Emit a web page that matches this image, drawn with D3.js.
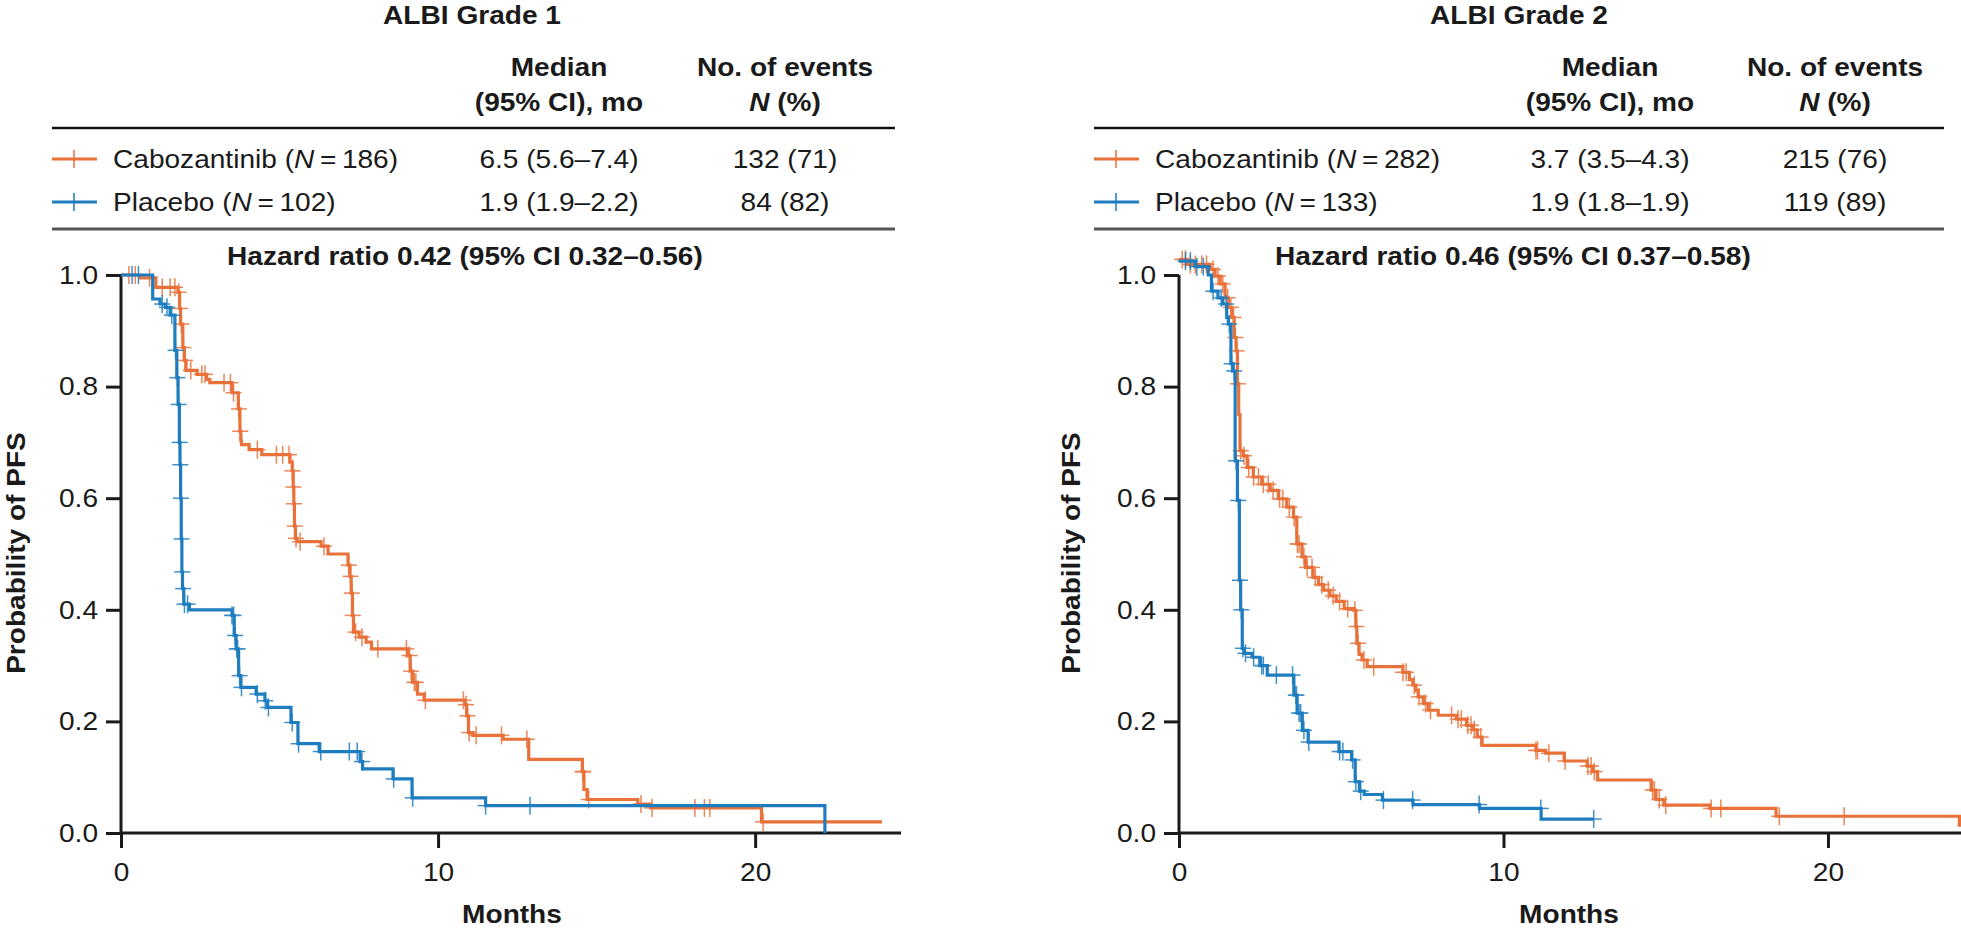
<!DOCTYPE html>
<html><head><meta charset="utf-8">
<script src="https://cdn.jsdelivr.net/npm/d3@7"></script>
<style>
body{margin:0;background:#fff}
svg{display:block}
text{font-family:"Liberation Sans",Arial,Helvetica,sans-serif;fill:#1a1a1a}
</style>
</head><body>
<svg id="c" width="1961" height="933"></svg>
<script>
// ---------- tick labels ----------
const xTicks = [0, 10, 20];
const yTicks = [0, 0.2, 0.4, 0.6, 0.8, 1.0];

// ---------- ALBI Grade 1 ----------
const g1CaboT = [0,0.6,1.1,1.8,1.85,1.88,1.95,2.0,2.05,2.4,2.7,2.8,3.5,3.7,3.75,3.78,3.8,4.04,4.44,5.33,5.4,5.43,5.45,5.47,5.5,5.55,6.31,6.53,7.16,7.22,7.26,7.3,7.33,7.51,7.73,7.9,9.05,9.12,9.2,9.35,9.56,10.85,10.9,10.96,11.1,12.05,12.86,14.55,14.6,14.7,16.3,16.7,20.2];
const g1CaboS = [1.0,0.995,0.978,0.969,0.94,0.912,0.87,0.847,0.829,0.822,0.813,0.807,0.789,0.76,0.72,0.703,0.696,0.687,0.678,0.665,0.649,0.62,0.59,0.55,0.528,0.522,0.514,0.50,0.48,0.46,0.43,0.39,0.36,0.351,0.342,0.33,0.318,0.29,0.27,0.249,0.238,0.23,0.21,0.18,0.175,0.168,0.132,0.11,0.078,0.06,0.052,0.045,0.02];
const g1CaboEnd = 24.0;
const g1CaboCens = [0.25,0.45,0.9,1.3,1.55,1.7,1.82,1.86,1.9,1.97,2.02,2.2,2.55,2.65,3.25,3.45,3.55,3.72,3.76,4.3,4.9,5.1,5.3,5.41,5.44,5.46,5.48,5.52,5.65,6.4,7.18,7.24,7.28,7.31,7.4,7.6,8.1,9.0,9.1,9.15,9.25,9.3,9.6,10.8,10.88,10.93,10.98,11.2,12.0,12.8,14.56,14.57,14.58,14.75,16.4,16.75,18.1,18.4,18.57,20.25];

const g1PlacT = [0,1.0,1.23,1.4,1.55,1.7,1.76,1.8,1.84,1.86,1.88,1.9,1.92,1.94,1.98,2.16,3.5,3.57,3.63,3.71,3.78,4.26,4.54,4.62,5.36,5.58,6.25,7.54,7.62,8.58,9.18,11.5,22.2];
const g1PlacS = [1.0,0.957,0.948,0.942,0.928,0.865,0.816,0.768,0.70,0.66,0.60,0.527,0.468,0.438,0.41,0.40,0.39,0.354,0.33,0.282,0.261,0.249,0.237,0.225,0.198,0.16,0.146,0.128,0.115,0.097,0.063,0.049,0.0];
const g1PlacEnd = 22.2;
const g1PlacCens = [0.35,0.55,1.3,1.45,1.6,1.72,1.78,1.82,1.85,1.87,1.89,1.91,1.93,1.96,2.0,2.1,3.5,3.55,3.6,3.65,3.68,3.74,3.8,4.3,4.55,4.65,5.4,5.6,6.3,7.2,7.45,7.6,8.6,9.2,11.5,12.9];

// ---------- ALBI Grade 2 ----------
const g2CaboT = [0,0.24,0.96,1.11,1.27,1.42,1.52,1.63,1.7,1.76,1.8,1.84,1.88,1.98,2.1,2.29,2.55,2.81,3.06,3.32,3.53,3.63,3.79,3.9,4.13,4.3,4.46,4.65,4.85,5.09,5.4,5.45,5.48,5.55,5.64,5.8,6.9,7.1,7.21,7.3,7.37,7.53,7.68,7.99,8.55,8.86,9.05,9.19,9.34,11.0,11.3,11.87,12.58,12.75,12.9,14.55,14.7,14.94,16.36,18.4,24.05];
const g2CaboS = [1.028,1.019,1.01,0.998,0.984,0.959,0.942,0.924,0.888,0.864,0.805,0.75,0.685,0.676,0.655,0.638,0.625,0.614,0.599,0.584,0.566,0.518,0.495,0.476,0.458,0.445,0.435,0.425,0.415,0.402,0.399,0.37,0.34,0.32,0.31,0.298,0.288,0.275,0.265,0.255,0.244,0.232,0.22,0.211,0.204,0.193,0.185,0.172,0.157,0.148,0.143,0.129,0.12,0.11,0.095,0.077,0.06,0.05,0.044,0.03,0.014];
const g2CaboEnd = 24.1;
const g2CaboCens = [0.1,0.2,0.35,0.5,0.7,0.85,1.05,1.2,1.35,1.5,1.6,1.68,1.74,1.78,1.82,1.9,2.0,2.15,2.3,2.45,2.6,2.75,2.9,3.1,3.2,3.4,3.55,3.65,3.7,3.85,3.95,4.1,4.2,4.4,4.6,4.75,4.95,5.2,5.42,5.47,5.52,5.7,6.0,6.9,7.0,7.25,7.4,7.6,7.75,8.4,8.6,8.7,8.9,9.0,9.1,9.3,11.0,11.05,11.4,11.9,12.6,12.7,12.8,14.6,14.65,14.8,15.0,16.4,16.7,18.5,20.5];

const g2PlacT = [0,0.5,0.9,1.0,1.2,1.35,1.47,1.52,1.6,1.66,1.73,1.8,1.86,1.9,1.95,2.0,2.25,2.49,2.72,3.54,3.64,3.8,3.98,4.93,5.32,5.43,5.56,5.71,6.27,7.21,9.26,11.16];
const g2PlacS = [1.025,1.015,1.0,0.971,0.959,0.948,0.924,0.912,0.841,0.828,0.667,0.596,0.453,0.40,0.331,0.322,0.315,0.30,0.283,0.247,0.215,0.184,0.163,0.146,0.131,0.092,0.075,0.069,0.059,0.051,0.044,0.025];
const g2PlacEnd = 12.78;
const g2PlacCens = [0.2,0.35,0.55,0.75,1.05,1.3,1.45,1.55,1.62,1.7,1.76,1.83,1.88,1.92,1.97,2.05,2.3,2.55,2.6,3.0,3.5,3.6,3.62,3.7,3.75,3.85,4.0,4.95,5.05,5.35,5.45,5.6,6.3,7.2,9.25,11.15,12.78];

// ---------- table texts ----------
const titles = ["ALBI Grade 1", "ALBI Grade 2"];
const caboN = [186, 282];
const placN = [102, 133];
const caboMedian = ["6.5 (5.6\u20137.4)", "3.7 (3.5\u20134.3)"];
const placMedian = ["1.9 (1.9\u20132.2)", "1.9 (1.8\u20131.9)"];
const caboEvents = ["132 (71)", "215 (76)"];
const placEvents = ["84 (82)", "119 (89)"];
const hazard = ["Hazard ratio 0.42 (95% CI 0.32\u20130.56)", "Hazard ratio 0.46 (95% CI 0.37\u20130.58)"];

const ORANGE = "#E9713A", BLUE = "#1E7DBF";
const FS = 26, SX = 1.08;

const panels = [
  {i:0, cabo:{T:g1CaboT,S:g1CaboS,end:g1CaboEnd,c:g1CaboCens}, plac:{T:g1PlacT,S:g1PlacS,end:g1PlacEnd,c:g1PlacCens},
   axL:121, axR:901, xMax:24.6, tL:52, tR:895, c1:559, c2:785, tx:472, hrx:227, ylx:25, mx:512},
  {i:1, cabo:{T:g2CaboT,S:g2CaboS,end:g2CaboEnd,c:g2CaboCens}, plac:{T:g2PlacT,S:g2PlacS,end:g2PlacEnd,c:g2PlacCens},
   axL:1179, axR:1961, xMax:24.1, tL:1094, tR:1944, c1:1610, c2:1835, tx:1519, hrx:1275, ylx:1080, mx:1569}
];

const svg = d3.select("#c");
const yTop = 275, yBot = 833;

function survAt(T,S,t){ let v=S[0]; for(let k=0;k<T.length;k++){ if(T[k]<=t) v=S[k]; else break;} return v; }
function txt(g, x, y, anchor, bold, rot){
  const gg = g.append("g").attr("transform",`translate(${x},${y})${rot?" rotate(-90)":""} scale(${SX},1)`);
  return gg.append("text").attr("text-anchor",anchor).attr("font-size",FS).attr("font-weight",bold?"bold":"normal");
}

panels.forEach(p=>{
  const i = p.i;
  const g = svg.append("g");
  const x = d3.scaleLinear().domain([0,p.xMax]).range([p.axL,p.axR]);
  const y = d3.scaleLinear().domain([0,1]).range([yBot,yTop]);

  txt(g,p.tx,24,"middle",true).text(titles[i]);
  txt(g,p.c1,76,"middle",true).text("Median");
  txt(g,p.c1,111,"middle",true).text("(95% CI), mo");
  txt(g,p.c2,76,"middle",true).text("No. of events");
  const np = txt(g,p.c2,111,"middle",true);
  np.append("tspan").attr("font-style","italic").text("N");
  np.append("tspan").text(" (%)");

  g.append("line").attr("x1",p.tL).attr("x2",p.tR).attr("y1",128).attr("y2",128).attr("stroke","#111").attr("stroke-width",2.5);
  g.append("line").attr("x1",p.tL).attr("x2",p.tR).attr("y1",229).attr("y2",229).attr("stroke","#555").attr("stroke-width",3);

  const rows = [
    {name:"Cabozantinib", n:caboN[i], med:caboMedian[i], ev:caboEvents[i], col:ORANGE, yb:168},
    {name:"Placebo", n:placN[i], med:placMedian[i], ev:placEvents[i], col:BLUE, yb:211}
  ];
  rows.forEach(r=>{
    const cy = r.yb-9;
    g.append("line").attr("x1",p.tL).attr("x2",p.tL+45).attr("y1",cy).attr("y2",cy).attr("stroke",r.col).attr("stroke-width",3);
    g.append("line").attr("x1",p.tL+22).attr("x2",p.tL+22).attr("y1",cy-9).attr("y2",cy+9).attr("stroke",r.col).attr("stroke-width",1.5);
    const t = txt(g,p.tL+61,r.yb,"start",false);
    t.append("tspan").text(r.name+" (");
    t.append("tspan").attr("font-style","italic").text("N");
    t.append("tspan").text("\u2009=\u2009"+r.n+")");
    txt(g,p.c1,r.yb,"middle",false).text(r.med);
    txt(g,p.c2,r.yb,"middle",false).text(r.ev);
  });

  txt(g,p.hrx,265,"start",true).text(hazard[i]);

  // axes
  const yAx = g.append("g").attr("transform",`translate(${p.axL},0)`)
    .call(d3.axisLeft(y).tickValues(yTicks).tickFormat(d3.format(".1f")).tickSize(15).tickPadding(8));
  const xAx = g.append("g").attr("transform",`translate(0,${yBot})`)
    .call(d3.axisBottom(x).tickValues(xTicks).tickFormat(d3.format("d")).tickSize(15).tickPadding(15));
  [yAx,xAx].forEach(a=>{
    a.select(".domain").attr("stroke","#1a1a1a").attr("stroke-width",3);
    a.selectAll(".tick line").attr("stroke","#1a1a1a").attr("stroke-width",3);
    a.selectAll(".tick text").attr("font-size",FS).attr("fill","#1a1a1a")
      .attr("font-family","'Liberation Sans',Arial,sans-serif");
  });
  yAx.selectAll(".tick text").attr("x",null).attr("transform",`translate(-23,0) scale(${SX},1)`);
  xAx.selectAll(".tick text").attr("transform",`scale(${SX},1)`);
  yAx.select(".domain").attr("d",`M0,${y(1)}V${yBot}`);
  xAx.select(".domain").attr("d",`M${p.axL},0H${p.axR}`);

  txt(g,p.ylx,553,"middle",true,true).text("Probability of PFS");
  txt(g,p.mx,923,"middle",true).text("Months");

  // curves
  const line = d3.line().x(d=>x(d[0])).y(d=>y(d[1])).curve(d3.curveStepAfter);
  [[p.cabo,ORANGE],[p.plac,BLUE]].forEach(([s,col])=>{
    const pts = s.T.map((t,k)=>[t,s.S[k]]);
    pts.push([s.end, s.S[s.S.length-1]]);
    g.append("path").datum(pts).attr("d",line).attr("fill","none")
      .attr("stroke",col).attr("stroke-width",3.2).attr("stroke-linejoin","miter");
    const cg = g.append("g").attr("stroke",col).attr("stroke-width",1.5).attr("opacity",0.85);
    s.c.forEach(t=>{
      const cx = x(t), cy = y(survAt(s.T,s.S,t));
      cg.append("line").attr("x1",cx-8).attr("x2",cx+8).attr("y1",cy).attr("y2",cy);
      cg.append("line").attr("x1",cx).attr("x2",cx).attr("y1",cy-9).attr("y2",cy+9);
    });
  });
});
</script>
</body></html>
